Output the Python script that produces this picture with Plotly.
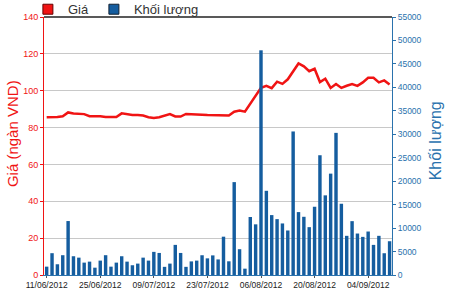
import plotly.graph_objects as go

dates = [
    "11/06/2012","12/06/2012","13/06/2012","14/06/2012","15/06/2012",
    "18/06/2012","19/06/2012","20/06/2012","21/06/2012","22/06/2012",
    "25/06/2012","26/06/2012","27/06/2012","28/06/2012","29/06/2012",
    "02/07/2012","03/07/2012","04/07/2012","05/07/2012","06/07/2012",
    "09/07/2012","10/07/2012","11/07/2012","12/07/2012","13/07/2012",
    "16/07/2012","17/07/2012","18/07/2012","19/07/2012","20/07/2012",
    "23/07/2012","24/07/2012","25/07/2012","26/07/2012","27/07/2012",
    "30/07/2012","31/07/2012","01/08/2012","02/08/2012","03/08/2012",
    "06/08/2012","07/08/2012","08/08/2012","09/08/2012","10/08/2012",
    "13/08/2012","14/08/2012","15/08/2012","16/08/2012","17/08/2012",
    "20/08/2012","21/08/2012","22/08/2012","23/08/2012","24/08/2012",
    "27/08/2012","28/08/2012","29/08/2012","30/08/2012","31/08/2012",
    "04/09/2012","05/09/2012","06/09/2012","07/09/2012","10/09/2012",
]

price = [
    85.6, 85.6, 85.7, 86.1, 88.2, 87.6, 87.6, 87.3, 86.2, 86.2,
    86.2, 85.7, 85.7, 85.7, 87.7, 87.2, 86.8, 86.8, 86.5, 85.6,
    85.2, 85.6, 86.3, 87.3, 86.0, 86.0, 87.4, 87.4, 87.4, 87.0,
    86.8, 86.8, 86.8, 86.8, 86.5, 88.6, 89.2, 88.6, 92.8, 97.3,
    101.6, 102.7, 101.4, 104.9, 103.7, 106.2, 110.8, 114.8, 113.2, 110.6,
    111.9, 104.7, 106.5, 101.5, 103.6, 101.5, 102.7, 103.6, 102.6, 104.5,
    107.0, 107.0, 104.5, 105.6, 103.4,
]

volume = [
    1780, 4650, 2290, 4220, 11500, 4000, 3700, 2640, 2850, 1560,
    3070, 4220, 1780, 2640, 4000, 2850, 2080, 2430, 3700, 3070,
    4930, 4700, 1740, 2430, 6420, 4700, 1740, 2900, 3070, 4210,
    3550, 4180, 3320, 8170, 2920, 19800, 5500, 1350, 12370, 10800,
    47900, 17950, 12770, 11910, 10990, 9490, 30600, 13410, 12410, 10200,
    14550, 25530, 16980, 21610, 30300, 15190, 8350, 11480, 8840, 8130,
    9270, 6420, 8350, 4640, 7200,
]

tick_labels = ["11/06/2012", "25/06/2012", "09/07/2012", "23/07/2012",
               "06/08/2012", "20/08/2012", "04/09/2012"]

RED = "#f01414"
BLUE = "#155d9f"
AXBLUE = "#2a72ad"
TICKFONT = "Liberation Sans, Arial, sans-serif"

fig = go.Figure()
fig.add_trace(go.Bar(x=dates, y=volume, yaxis="y2", marker=dict(color=BLUE, line=dict(width=0)),
                     name="Khối lượng", showlegend=False))
fig.add_trace(go.Scatter(x=dates, y=price, mode="lines", line=dict(color=RED, width=2.5),
                         name="Giá", showlegend=False))
# legend-only markers
fig.add_trace(go.Scatter(x=[None], y=[None], mode="markers", name="Giá",
                         marker=dict(symbol="square", size=10, color=RED, line=dict(color="#600", width=1))))
fig.add_trace(go.Scatter(x=[None], y=[None], mode="markers", name="Khối lượng",
                         marker=dict(symbol="square", size=10, color=BLUE, line=dict(color="#123", width=1))))

fig.update_layout(
    width=450, height=290,
    margin=dict(l=44, r=58, t=17, b=15, autoexpand=False),
    paper_bgcolor="white", plot_bgcolor="white",
    bargap=0.36,
    showlegend=True,
    legend=dict(orientation="h", xref="container", yref="container", x=0.062, xanchor="left",
                y=0.968, yanchor="middle",
                font=dict(family="Liberation Sans, Arial", size=13, color="#333"),
                itemwidth=30, tracegroupgap=0, bgcolor="rgba(0,0,0,0)"),
    xaxis=dict(type="category", range=[-0.5, 64.45], tickmode="array", tickvals=tick_labels,
               ticktext=tick_labels, tickangle=0, showgrid=False, showline=True,
               linecolor=AXBLUE, linewidth=1, ticks="outside", ticklen=2, tickcolor="#555",
               tickfont=dict(family=TICKFONT, size=8.5, color="#222"), zeroline=False),
    yaxis=dict(range=[0, 140], dtick=20, showgrid=True, gridcolor="#c8c8c8", gridwidth=1,
               showline=True, linecolor=RED, linewidth=1, ticks="outside", ticklen=3,
               tickcolor=RED, tickfont=dict(family=TICKFONT, size=9, color=RED), zeroline=False),
    yaxis2=dict(range=[0, 55000], dtick=5000, tickformat="d", overlaying="y", side="right",
                showgrid=False,
                showline=True, linecolor=AXBLUE, linewidth=1, ticks="outside", ticklen=3,
                tickcolor=AXBLUE, tickfont=dict(family=TICKFONT, size=8.5, color=AXBLUE), zeroline=False),
    annotations=[
        dict(text="Giá (ngàn VND)", textangle=-90, xref="paper", yref="paper",
             x=-0.092, y=0.55, xanchor="center", yanchor="middle", showarrow=False,
             font=dict(family="Liberation Sans, Arial", size=15, color=RED)),
        dict(text="Khối lượng", textangle=-90, xref="paper", yref="paper",
             x=1.125, y=0.52, xanchor="center", yanchor="middle", showarrow=False,
             font=dict(family="Liberation Sans, Arial", size=16, color=AXBLUE)),
    ],
    shapes=[dict(type="line", xref="paper", yref="paper", x0=0, x1=1, y0=1, y1=1,
                 line=dict(color="#222", width=1.5))],
)

fig.write_html("out.html")
